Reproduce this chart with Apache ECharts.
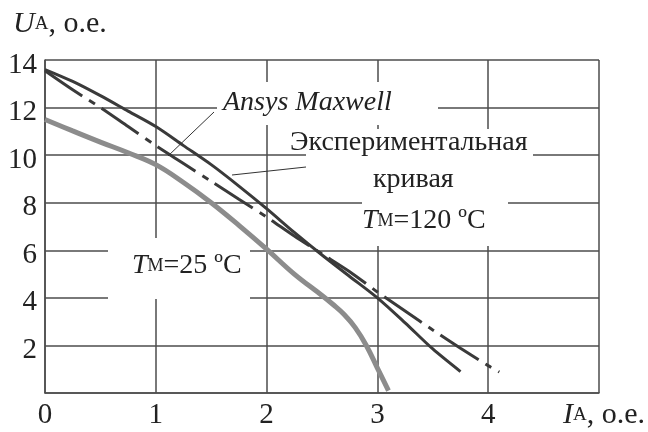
<!DOCTYPE html>
<html>
<head>
<meta charset="utf-8">
<script src="https://cdn.jsdelivr.net/npm/echarts@6/dist/echarts.min.js"></script>
<style>html,body{margin:0;padding:0;background:#fff}#c{width:648px;height:432px}</style>
</head>
<body>
<div id="c"></div>
<script>
// Data
const xTicks = [0, 1, 2, 3, 4, 5];
const yTicks = [0, 2, 4, 6, 8, 10, 12, 14];

const expX = [0, 0.25, 0.5, 0.75, 1.0, 1.25, 1.5, 1.75, 2.0, 2.25, 2.5, 2.75, 3.0, 3.25, 3.5, 3.75];
const expY = [13.6, 13.1, 12.5, 11.85, 11.2, 10.4, 9.6, 8.7, 7.75, 6.75, 5.8, 4.9, 4.0, 2.95, 1.85, 0.9];

const ansysX = [0, 0.25, 0.5, 0.75, 1.0, 1.25, 1.5, 1.75, 2.0, 2.25, 2.5, 2.75, 3.0, 3.25, 3.5, 3.75, 4.0, 4.1];
const ansysY = [13.55, 12.75, 12.0, 11.2, 10.4, 9.65, 8.9, 8.15, 7.4, 6.6, 5.85, 5.1, 4.25, 3.45, 2.65, 1.88, 1.15, 0.88];

const t25X = [0, 0.25, 0.5, 0.75, 1.0, 1.25, 1.5, 1.75, 2.0, 2.25, 2.5, 2.6, 2.7, 2.8, 2.9, 3.0, 3.1];
const t25Y = [11.5, 11.02, 10.55, 10.1, 9.6, 8.85, 8.0, 7.05, 6.05, 5.0, 4.1, 3.72, 3.3, 2.75, 2.0, 1.05, 0.1];

const pairs = (xs, ys) => xs.map((x, i) => [x, ys[i]]);

const FONT = '"Liberation Serif","DejaVu Serif",serif';
const TXT = '#222';
const GRID = '#4d4d4d';

const chart = echarts.init(document.getElementById('c'), null, {renderer: 'canvas'});

const rich = {
  it: {fontFamily: FONT, fontStyle: 'italic', fontSize: 30, color: TXT},
  sub: {fontFamily: FONT, fontSize: 19, color: TXT},
  n: {fontFamily: FONT, fontSize: 30, color: TXT},
  ita: {fontFamily: FONT, fontStyle: 'italic', fontSize: 28, color: TXT},
  suba: {fontFamily: FONT, fontSize: 18, color: TXT},
  na: {fontFamily: FONT, fontSize: 28, color: TXT}
};

function txt(x, y, text, z) {
  return {type: 'text', left: x, top: y, z: z || 5,
    style: {text: text, rich: rich, fill: TXT, font: '28px ' + FONT}};
}

chart.setOption({
  animation: false,
  backgroundColor: '#fff',
  grid: {left: 45, right: 49, top: 60, bottom: 39, containLabel: false},
  xAxis: {
    type: 'value', min: 0, max: 5, interval: 1,
    axisLine: {show: true, lineStyle: {color: GRID, width: 1.5}},
    axisTick: {show: false},
    splitLine: {show: true, lineStyle: {color: GRID, width: 1.5}},
    axisLabel: {
      margin: 8, fontFamily: FONT, fontSize: 29, color: TXT,
      formatter: v => (xTicks.indexOf(v) >= 0 && v !== 5) ? String(v) : ''
    }
  },
  yAxis: {
    type: 'value', min: 0, max: 14, interval: 2,
    axisLine: {show: true, lineStyle: {color: GRID, width: 1.5}},
    axisTick: {show: false},
    splitLine: {show: true, lineStyle: {color: GRID, width: 1.5}},
    axisLabel: {
      margin: 8, color: TXT,
      formatter: v => (yTicks.indexOf(v) >= 0 && v !== 0) ? '{d|' + v + '}' : '',
      rich: {d: {fontFamily: FONT, fontSize: 29, color: TXT, padding: [10, 0, 0, 0]}}
    }
  },
  series: [
    {name: 'Экспериментальная кривая', type: 'line', data: pairs(expX, expY), smooth: 0.3,
      showSymbol: false, z: 4, lineStyle: {color: '#3a3a3a', width: 3}},
    {name: 'Ansys Maxwell', type: 'line', data: pairs(ansysX, ansysY), smooth: 0.3,
      showSymbol: false, z: 4, lineStyle: {color: '#3a3a3a', width: 3, type: [45, 8, 7, 8]}},
    {name: 'TM=25 °C', type: 'line', data: pairs(t25X, t25Y), smooth: 0.4,
      showSymbol: false, z: 3, lineStyle: {color: '#8c8c8c', width: 5}}
  ],
  graphic: [
    // white masks behind annotations
    {type: 'rect', z: 1, shape: {x: 217, y: 82, width: 221, height: 43}, style: {fill: '#fff'}},
    {type: 'rect', z: 1, shape: {x: 306, y: 129, width: 227, height: 32}, style: {fill: '#fff'}},
    {type: 'rect', z: 1, shape: {x: 362, y: 161, width: 146, height: 85}, style: {fill: '#fff'}},
    {type: 'rect', z: 1, shape: {x: 108, y: 238, width: 142, height: 61}, style: {fill: '#fff'}},
    // leader lines
    {type: 'line', z: 5, shape: {x1: 168, y1: 156, x2: 214, y2: 112}, style: {stroke: '#333', lineWidth: 1}},
    {type: 'line', z: 5, shape: {x1: 232, y1: 175, x2: 306, y2: 167}, style: {stroke: '#333', lineWidth: 1}},
    // axis titles
    txt(13, 9, '{it|U}{sub|A}{n|, o.e.}'),
    txt(563, 400, '{it|I}{sub|A}{n|, o.e.}'),
    // annotations
    txt(223, 89, '{ita|Ansys Maxwell}'),
    txt(290, 129, '{na|Экспериментальная}'),
    txt(373, 166, '{na|кривая}'),
    txt(362, 207, '{ita|T}{suba|M}{na|=120 ºC}'),
    txt(132, 252, '{ita|T}{suba|M}{na|=25 ºC}')
  ]
});
</script>
</body>
</html>
